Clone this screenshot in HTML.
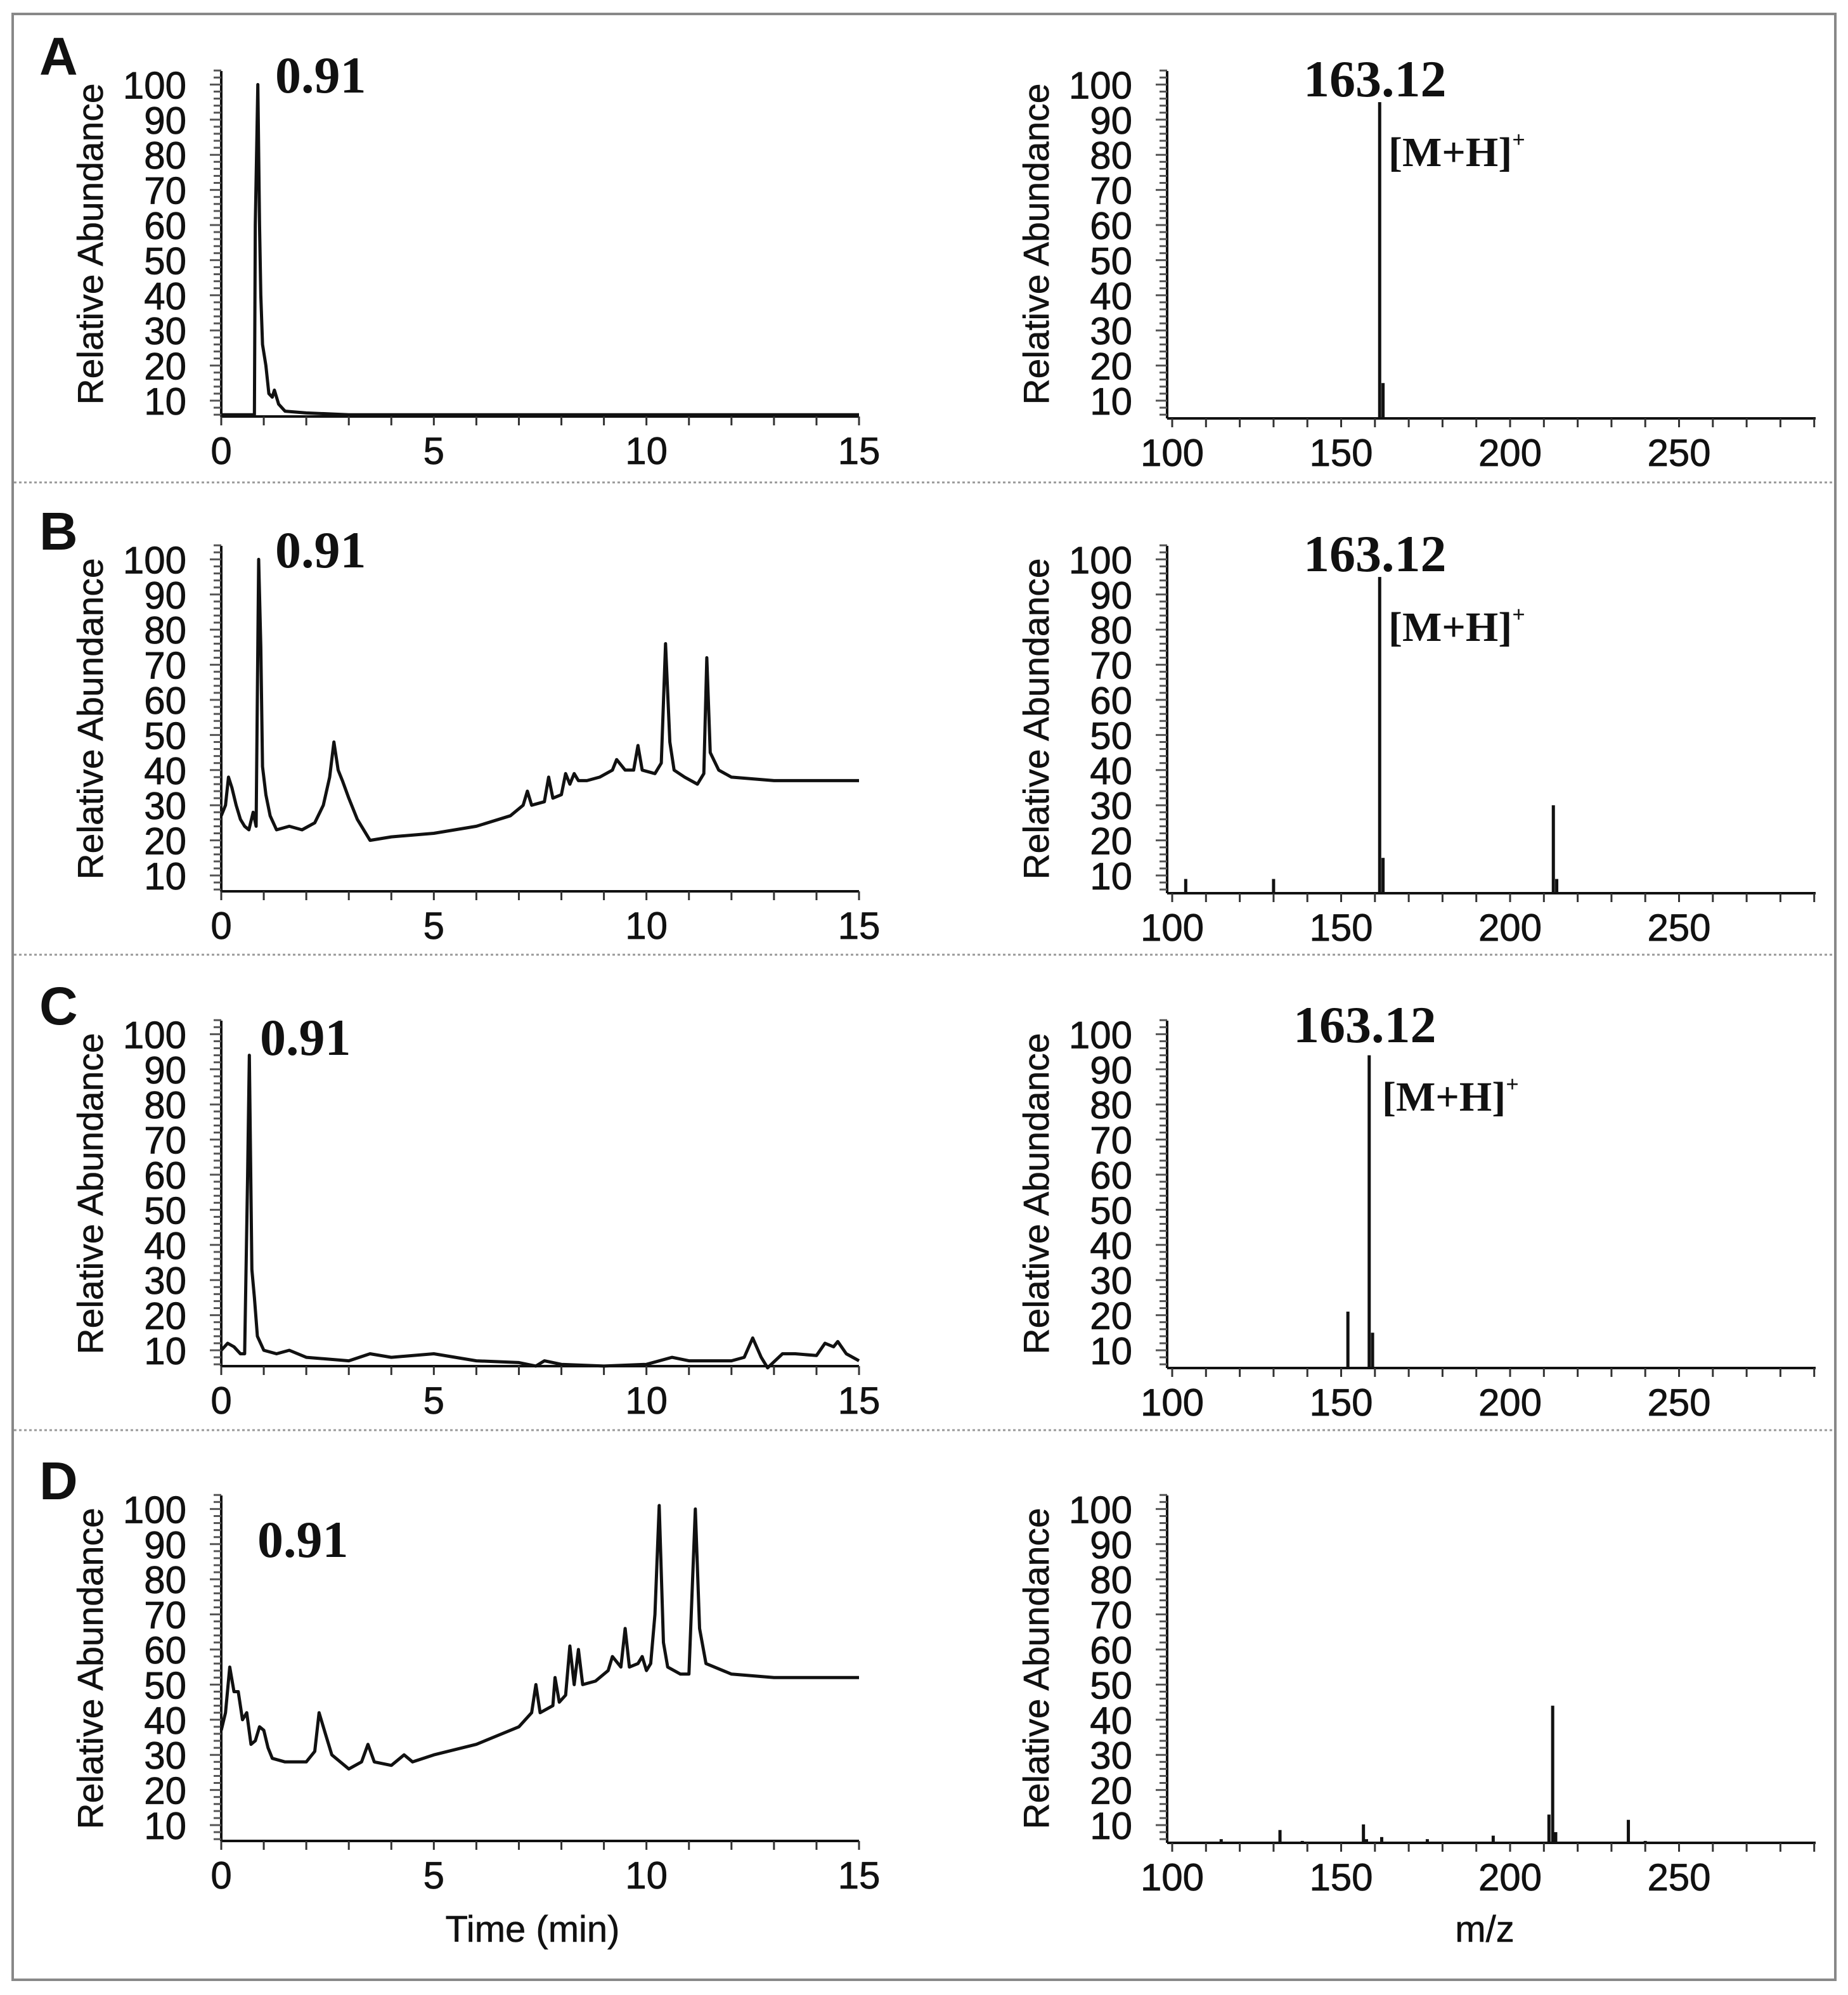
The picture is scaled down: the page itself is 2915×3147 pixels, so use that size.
<!DOCTYPE html>
<html><head><meta charset="utf-8"><style>
html,body{margin:0;padding:0;background:#fff;}
svg{display:block;}
text{font-family:"Liberation Sans",sans-serif;}
.tick{font-size:60px;fill:#111;stroke:#111;stroke-width:0.8px;}
.serif{font-family:"Liberation Serif",serif;font-weight:bold;fill:#111;}
</style></head><body>
<svg id="fig" width="2915" height="3147" viewBox="0 0 2915 3147" xmlns="http://www.w3.org/2000/svg">
<rect x="20" y="22" width="2875" height="3101" fill="#fff" stroke="#888" stroke-width="4"/>
</svg>
<script>
// ---- data ----
const rowOffsets = [0, 749, 1498, 2247];
const panelLetters = ["A","B","C","D"];
const timeTicks = [0,5,10,15];
const mzTicks = [100,150,200,250];
const yTicks = [10,20,30,40,50,60,70,80,90,100];
const chromA = [[0,6],[0.78,6],[0.8,60],[0.86,100],[0.9,60],[0.93,40],[0.97,26],[1.05,20],[1.12,12],[1.2,11],[1.25,13],[1.35,9],[1.5,7],[2,6.5],[3,6],[15,6]];
const chromB = [[0,27],[0.1,30],[0.17,38],[0.25,35],[0.35,30],[0.45,26],[0.55,24],[0.65,23],[0.75,28],[0.82,24],[0.88,100],[0.93,75],[0.97,41],[1.05,33],[1.15,27],[1.3,23],[1.6,24],[1.9,23],[2.2,25],[2.4,30],[2.55,38],[2.65,48],[2.75,40],[2.85,37],[3.0,32],[3.2,26],[3.5,20],[4.0,21],[5,22],[6,24],[6.8,27],[7.1,30],[7.2,34],[7.3,30],[7.6,31],[7.7,38],[7.8,32],[8.0,33],[8.1,39],[8.2,36],[8.3,39],[8.4,37],[8.6,37],[8.9,38],[9.2,40],[9.3,43],[9.5,40],[9.7,40],[9.8,47],[9.9,40],[10.2,39],[10.35,42],[10.45,76],[10.55,48],[10.65,40],[10.9,38],[11.2,36],[11.35,39],[11.42,72],[11.5,45],[11.7,40],[12,38],[13,37],[14,37],[15,37]];
const chromC = [[0,10],[0.15,12],[0.3,11],[0.45,9],[0.55,9],[0.62,60],[0.66,94],[0.72,33],[0.78,25],[0.85,14],[1.0,10],[1.3,9],[1.6,10],[2,8],[3,7],[3.5,9],[4,8],[5,9],[6,7],[7,6.5],[7.4,5.5],[7.6,7],[8,6],[9,5.5],[10,6],[10.6,8],[11,7],[12,7],[12.3,8],[12.5,13.5],[12.7,8],[12.85,5],[13.2,9],[13.5,9],[14,8.5],[14.2,12],[14.4,11],[14.5,12.5],[14.7,9],[15,7]];
const chromD = [[0,37],[0.1,42],[0.2,55],[0.3,48],[0.4,48],[0.5,40],[0.6,42],[0.7,33],[0.8,34],[0.9,38],[1.0,37],[1.1,32],[1.2,29],[1.5,28],[2.0,28],[2.2,31],[2.3,42],[2.45,36],[2.6,30],[3.0,26],[3.3,28],[3.45,33],[3.6,28],[4.0,27],[4.3,30],[4.5,28],[5,30],[6,33],[7,38],[7.3,42],[7.4,50],[7.5,42],[7.8,44],[7.85,52],[7.95,45],[8.1,47],[8.2,61],[8.3,50],[8.4,60],[8.5,50],[8.8,51],[9.1,54],[9.2,58],[9.4,55],[9.5,66],[9.6,55],[9.8,56],[9.9,58],[10.0,54],[10.1,56],[10.2,70],[10.3,101],[10.4,62],[10.5,55],[10.8,53],[11.0,53],[11.15,100],[11.25,66],[11.4,56],[12,53],[13,52],[14,52],[15,52]];
const chroms = [chromA, chromB, chromC, chromD];
const specAmz = [161.4, 162.4];
const specAv  = [95, 15];
const specBmz = [104, 130, 161.4, 162.4, 212.8, 213.8];
const specBv  = [9, 9, 95, 15, 30, 9];
const specCmz = [152, 158.3, 159.3];
const specCv  = [21, 94, 15];
const specDmz = [114.5, 131.9, 138.5, 156.6, 157.5, 162, 175.5, 195, 211.5, 212.6, 213.5, 235, 240];
const specDv  = [6, 8.6, 5.5, 10.2, 6, 6.6, 6, 7, 13, 44, 8, 11.5, 5.5];
const specMz = [specAmz, specBmz, specCmz, specDmz];
const specV = [specAv, specBv, specCv, specDv];
const rtLabels = ["0.91","0.91","0.91","0.91"];
const mzLabels = ["163.12","163.12","163.12",""];

// ---- geometry ----
const svg = document.getElementById('fig');
const NS = "http://www.w3.org/2000/svg";
const LX0=349, LX1=1355, RX0=1841, RX1=2864;
function xT(t){return LX0 + t*(LX1-LX0)/15;}
function xM(m){return 1849 + (m-100)*5.33;}
function yV(v,off){return off + 632 - (v-10)*5.54;}
function mk(tag, attrs, txt){const e=document.createElementNS(NS,tag);for(const k in attrs)e.setAttribute(k,attrs[k]);if(txt!==undefined)e.textContent=txt;svg.appendChild(e);return e;}

[761,1506,2256].forEach(function(y){
  const l=mk('line',{x1:22,x2:2893,y1:y,y2:y,stroke:'#999','stroke-width':3,'stroke-dasharray':'4 4'});
  
  
});

function drawYAxis(ax, off, base, side){
  const a=mk('line',{x1:ax,x2:ax,y1:off+112,y2:base,stroke:'#111','stroke-width':4});
  
  
  for(let v=6; v<=104; v+=2){
    const y=yV(v,off); const len=(v%10===0)?18:12;
    const t=mk('line',{x1:ax-len,x2:ax,y1:y,y2:y,stroke:'#555','stroke-width':3});
    
    
  }
  yTicks.forEach(function(v){
    const t=mk('text',{x:ax-55,y:yV(v,off)+22,'text-anchor':'end',class:'tick'},String(v));
    
    
  });
  const cy=off+385, cx=ax-187;
  const tt=mk('text',{x:cx,y:cy,'text-anchor':'middle',transform:'rotate(-90 '+cx+' '+cy+')',style:'font-size:57px;fill:#111;stroke:#111;stroke-width:0.6px'},'Relative Abundance');
  
  
}

for(let r=0;r<4;r++){
  const off=rowOffsets[r];
  const pl=mk('text',{x:62,y:off+118,style:'font-size:84px;font-weight:bold;fill:#111'},panelLetters[r]);
  
  

  const lb=off+657;
  drawYAxis(LX0, off, lb, 'chromatogram');
  const xa=mk('line',{x1:LX0,x2:LX1,y1:lb,y2:lb,stroke:'#111','stroke-width':4});
  
  
  for(let t=0;t<=15;t++){
    const tk=mk('line',{x1:xT(t),x2:xT(t),y1:lb,y2:lb+14,stroke:'#333','stroke-width':3});
    
    
  }
  timeTicks.forEach(function(t){
    const l=mk('text',{x:xT(t),y:lb+75,'text-anchor':'middle',class:'tick'},String(t));
    
    
  });
  const pts=chroms[r].map(function(p){return xT(p[0]).toFixed(1)+','+yV(p[1],off).toFixed(1);}).join(' ');
  const pl2=mk('polyline',{points:pts,fill:'none',stroke:'#111','stroke-width':5,'stroke-linejoin':'round'});
  
  
  const rtPos=[[434,146],[434,146],[410,166],[406,209]][r];
  const rl=mk('text',{x:rtPos[0],y:off+rtPos[1],class:'serif',style:'font-size:82px'},rtLabels[r]);
  
  

  const rb=off+660;
  drawYAxis(RX0, off, rb, 'spectrum');
  const xa2=mk('line',{x1:RX0,x2:RX1,y1:rb,y2:rb,stroke:'#111','stroke-width':4});
  
  
  for(let m=100;m<=290;m+=10){
    const tk=mk('line',{x1:xM(m),x2:xM(m),y1:rb,y2:rb+14,stroke:'#333','stroke-width':3});
    
    
  }
  mzTicks.forEach(function(m){
    const l=mk('text',{x:xM(m),y:rb+75,'text-anchor':'middle',class:'tick'},String(m));
    
    
  });
  const mzs=specMz[r], vs=specV[r];
  for(let i=0;i<mzs.length;i++){
    const b=mk('line',{x1:xM(mzs[i]),x2:xM(mzs[i]),y1:rb,y2:yV(vs[i],off),stroke:'#111','stroke-width':5});
    
    
  }
  if(mzLabels[r]){
    const mp=[[2056,152],[2056,152],[2040,146]][r];
    const ml=mk('text',{x:mp[0],y:off+mp[1],class:'serif',style:'font-size:82px'},mzLabels[r]);
    
    
    const ip=[[2190,262],[2190,262],[2180,254]][r];
    const il=mk('text',{x:ip[0],y:off+ip[1],class:'serif',style:'font-size:66px'});
    
    
    const t1=document.createElementNS(NS,'tspan');t1.textContent='[M+H]';il.appendChild(t1);
    const t2=document.createElementNS(NS,'tspan');t2.setAttribute('dy','-30');t2.setAttribute('style','font-size:36px');t2.textContent='+';il.appendChild(t2);
  }
}
const xt1=mk('text',{x:840,y:3063,'text-anchor':'middle',style:'font-size:58px;fill:#111;stroke:#111;stroke-width:0.6px'},'Time (min)');


const xt2=mk('text',{x:2342,y:3063,'text-anchor':'middle',style:'font-size:58px;fill:#111;stroke:#111;stroke-width:0.6px'},'m/z');


</script>
</body></html>
